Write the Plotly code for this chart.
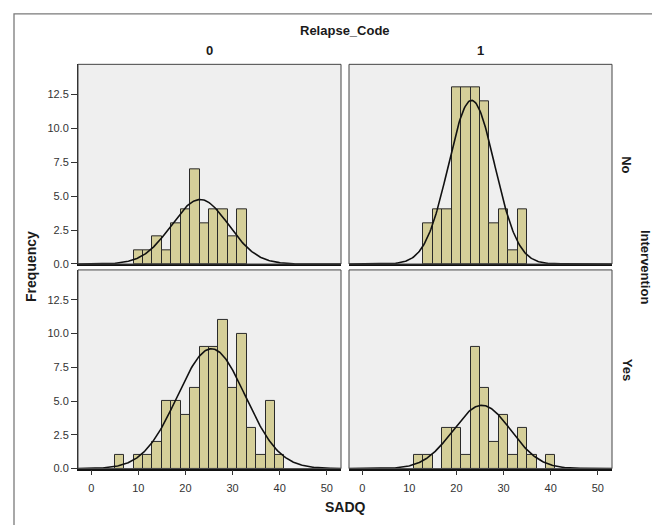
import numpy as np
import plotly.graph_objects as go

# ---- data ----
bin_centers = [6, 8, 10, 12, 14, 16, 18, 20, 22, 24, 26, 28, 30, 32, 34, 36, 38, 40]
bin_width = 2
counts_no_0 = [0, 0, 1, 1, 2, 1, 3, 4, 7, 3, 4, 4, 2, 4, 0, 0, 0, 0]
counts_no_1 = [0, 0, 0, 0, 3, 4, 4, 13, 13, 13, 12, 3, 4, 1, 4, 0, 0, 0]
counts_yes_0 = [1, 0, 1, 1, 2, 5, 5, 4, 6, 9, 9, 11, 6, 10, 3, 1, 5, 1]
counts_yes_1 = [0, 0, 0, 1, 1, 0, 3, 3, 1, 9, 6, 2, 4, 1, 3, 1, 0, 1]
# fitted normal curve parameters (mean, sd) per panel
fit_no_0 = (23.1, 6.05)
fit_no_1 = (23.2, 4.9)
fit_yes_0 = (25.5, 7.2)
fit_yes_1 = (25.4, 6.14)
x_ticks = [0, 10, 20, 30, 40, 50]
y_ticks = [0, 2.5, 5.0, 7.5, 10.0, 12.5]
y_tick_labels = ["0.0", "2.5", "5.0", "7.5", "10.0", "12.5"]
col_labels = ["0", "1"]
row_labels = ["No", "Yes"]

# page has an 8px body margin; figure sized so it fits the 660x525 window
OFF = 8
W, H = 660 - OFF, 525 - OFF
XR = [-2.8, 53.0]
YR = [0, 14.7]

def px(x):
    return (x - OFF) / W

def py(y):
    return 1 - (y - OFF) / H

col_dom = [[px(78), px(341)], [px(349), px(612)]]
row_dom = [[py(267), py(65)], [py(474), py(273)]]  # top row (No), bottom row (Yes)

panels = [
    (0, 0, counts_no_0, fit_no_0, "3"),
    (0, 1, counts_no_1, fit_no_1, "4"),
    (1, 0, counts_yes_0, fit_yes_0, ""),
    (1, 1, counts_yes_1, fit_yes_1, "2"),
]

fig = go.Figure()
layout = {}
shapes = []
BAR = "#D5CF99"
FONT = "Liberation Sans, Arial, sans-serif"

for r, c, counts, (mu, sd), s in panels:
    xs = [x for x, n in zip(bin_centers, counts) if n > 0]
    ys = [n for n in counts if n > 0]
    fig.add_trace(go.Bar(
        x=xs, y=ys, width=bin_width,
        marker=dict(color=BAR, line=dict(color="#2a2a2a", width=1)),
        xaxis="x" + s, yaxis="y" + s, showlegend=False, hoverinfo="x+y",
    ))
    n = sum(counts)
    cx = np.linspace(XR[0], XR[1], 300)
    cy = n * bin_width / (sd * np.sqrt(2 * np.pi)) * np.exp(-0.5 * ((cx - mu) / sd) ** 2)
    fig.add_trace(go.Scatter(
        x=cx, y=cy, mode="lines", line=dict(color="#111111", width=1.6),
        xaxis="x" + s, yaxis="y" + s, showlegend=False, hoverinfo="skip",
    ))
    bottom = (r == 1)
    left = (c == 0)
    layout["xaxis" + s] = dict(
        domain=col_dom[c], range=XR, anchor="y" + s,
        showgrid=False, zeroline=False, showline=True,
        linecolor="#111111", linewidth=1.5, mirror=False,
        tickvals=x_ticks if bottom else [], ticks="outside" if bottom else "",
        ticklen=5, tickcolor="#333333", showticklabels=bottom,
        ticklabelstandoff=3,
        tickfont=dict(family=FONT, size=11, color="#333333"),
    )
    layout["yaxis" + s] = dict(
        domain=row_dom[r], range=YR, anchor="x" + s,
        showgrid=False, zeroline=False,
        showline=left, linecolor="#222222", linewidth=1, mirror=False,
        tickvals=y_ticks if left else [], ticktext=y_tick_labels if left else [],
        ticks="outside" if left else "", ticklen=6, tickcolor="#333333",
        showticklabels=left,
        tickfont=dict(family=FONT, size=11, color="#333333"),
    )
    shapes.append(dict(
        type="rect", xref="x" + s + " domain", yref="y" + s + " domain",
        x0=0, x1=1, y0=0, y1=1, line=dict(color="#444444", width=1),
        fillcolor="rgba(0,0,0,0)", layer="above",
    ))

# outer frame
shapes.append(dict(type="rect", xref="paper", yref="paper",
                   x0=px(14), x1=px(659), y0=-0.05, y1=py(14),
                   line=dict(color="#7a7a7a", width=1.3), fillcolor="rgba(0,0,0,0)"))

def ann(text, x, y, size=13, angle=0):
    return dict(text="<b>%s</b>" % text, x=px(x), y=py(y), xref="paper", yref="paper",
                showarrow=False, xanchor="center", yanchor="middle", textangle=angle,
                font=dict(family=FONT, size=size, color="#1a1a1a"))

annotations = [
    ann("Relapse_Code", 345, 31, 13),
    ann(col_labels[0], 209, 51, 13),
    ann(col_labels[1], 480, 51, 13),
    ann(row_labels[0], 627, 166, 13, 90),
    ann(row_labels[1], 627, 374, 13, 90),
    ann("Intervention", 645, 270, 13, 90),
    ann("Frequency", 31, 270, 14, -90),
    ann("SADQ", 345, 513, 14),
]

fig.update_layout(
    width=W, height=H, margin=dict(l=0, r=0, t=0, b=0),
    paper_bgcolor="white", plot_bgcolor="#EFEFEF",
    bargap=0, shapes=shapes, annotations=annotations,
    font=dict(family=FONT), **layout,
)

fig.write_html("out.html")
